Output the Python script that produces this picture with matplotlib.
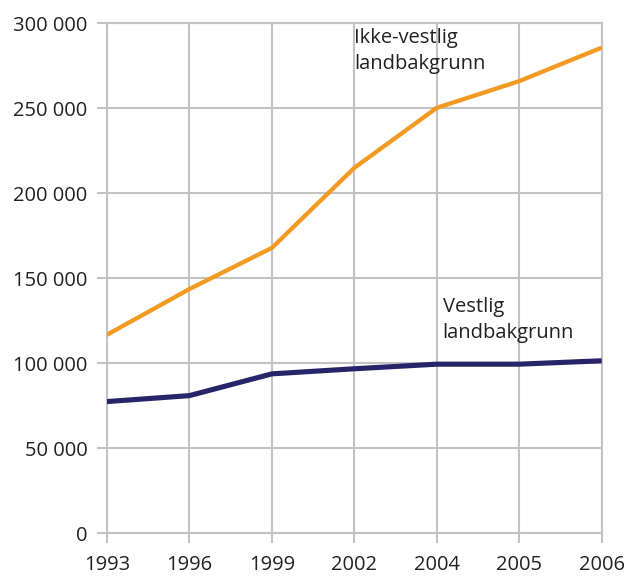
import matplotlib
matplotlib.use("Agg")
import matplotlib.pyplot as plt
from matplotlib.ticker import FuncFormatter

years = ["1993", "1996", "1999", "2002", "2004", "2005", "2006"]
ikke_vestlig = [116800, 143700, 167900, 215000, 250300, 266000, 285700]
vestlig = [77500, 81000, 93800, 96800, 99500, 99500, 101500]
yticks = [0, 50000, 100000, 150000, 200000, 250000, 300000]

plt.rcParams['font.family'] = ['Open Sans', 'DejaVu Sans']

fig = plt.figure(figsize=(6.26, 5.76), dpi=100)
ax = fig.add_axes([0.1709, 0.0741, 0.9612 - 0.1709, 0.9595 - 0.0741])

x = list(range(len(years)))
grid_c = "#c3c3c3"
txt_c = "#222222"
ax.plot(x, ikke_vestlig, color="#f39a22", lw=3.1, solid_capstyle="butt", zorder=3)
ax.plot(x, vestlig, color="#26256a", lw=3.7, solid_capstyle="butt", zorder=3)

ax.set_xlim(0, len(years) - 1)
ax.set_ylim(0, 300000)
ax.set_xticks(x)
ax.set_xticklabels(years)
ax.set_yticks(yticks)
ax.yaxis.set_major_formatter(FuncFormatter(lambda v, p: f"{int(v):,}".replace(",", " ")))
ax.grid(True, color=grid_c, lw=1.5, zorder=0)
for s in ax.spines.values():
    s.set_color(grid_c)
    s.set_linewidth(1.5)
ax.tick_params(axis="both", colors=grid_c, length=7, width=1.5, labelcolor=txt_c,
               labelsize=14.5)
ax.tick_params(axis="y", pad=7)
ax.tick_params(axis="x", pad=8.5)

ax.text(3.0, 297500, "Ikke-vestlig\nlandbakgrunn", ha="left", va="top",
        fontsize=14.5, color=txt_c, linespacing=1.4)
ax.text(4.07, 139000, "Vestlig\nlandbakgrunn", ha="left", va="top",
        fontsize=14.5, color=txt_c, linespacing=1.4)

fig.savefig("out.png", dpi=100)
